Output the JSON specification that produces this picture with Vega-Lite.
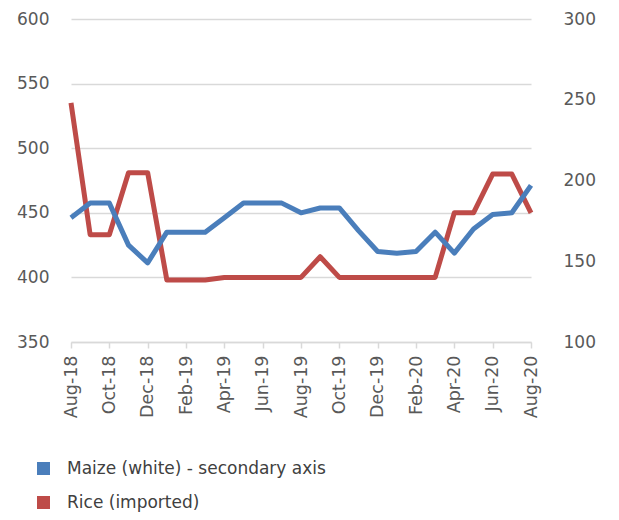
{
  "$schema": "https://vega.github.io/schema/vega-lite/v6.json",
  "width": 460,
  "height": 323,
  "autosize": "none",
  "padding": {"left": 71, "top": 19, "right": 88, "bottom": 178},
  "background": "white",
  "config": {
    "view": {"stroke": null},
    "font": "DejaVu Sans",
    "axis": {"labelColor": "#595959", "labelFont": "DejaVu Sans", "labelFontSize": 17, "title": null},
    "legend": {"labelColor": "#404040", "labelFont": "DejaVu Sans", "labelFontSize": 17, "labelLimit": 500}
  },
  "data": {
    "values": [
      {"month": "Aug-18", "series": "Rice (imported)", "value": 535},
      {"month": "Sep-18", "series": "Rice (imported)", "value": 433},
      {"month": "Oct-18", "series": "Rice (imported)", "value": 433},
      {"month": "Nov-18", "series": "Rice (imported)", "value": 481},
      {"month": "Dec-18", "series": "Rice (imported)", "value": 481},
      {"month": "Jan-19", "series": "Rice (imported)", "value": 398},
      {"month": "Feb-19", "series": "Rice (imported)", "value": 398},
      {"month": "Mar-19", "series": "Rice (imported)", "value": 398},
      {"month": "Apr-19", "series": "Rice (imported)", "value": 400},
      {"month": "May-19", "series": "Rice (imported)", "value": 400},
      {"month": "Jun-19", "series": "Rice (imported)", "value": 400},
      {"month": "Jul-19", "series": "Rice (imported)", "value": 400},
      {"month": "Aug-19", "series": "Rice (imported)", "value": 400},
      {"month": "Sep-19", "series": "Rice (imported)", "value": 416},
      {"month": "Oct-19", "series": "Rice (imported)", "value": 400},
      {"month": "Nov-19", "series": "Rice (imported)", "value": 400},
      {"month": "Dec-19", "series": "Rice (imported)", "value": 400},
      {"month": "Jan-20", "series": "Rice (imported)", "value": 400},
      {"month": "Feb-20", "series": "Rice (imported)", "value": 400},
      {"month": "Mar-20", "series": "Rice (imported)", "value": 400},
      {"month": "Apr-20", "series": "Rice (imported)", "value": 450},
      {"month": "May-20", "series": "Rice (imported)", "value": 450},
      {"month": "Jun-20", "series": "Rice (imported)", "value": 480},
      {"month": "Jul-20", "series": "Rice (imported)", "value": 480},
      {"month": "Aug-20", "series": "Rice (imported)", "value": 450},
      {"month": "Aug-18", "series": "Maize (white) - secondary axis", "value": 177},
      {"month": "Sep-18", "series": "Maize (white) - secondary axis", "value": 186},
      {"month": "Oct-18", "series": "Maize (white) - secondary axis", "value": 186},
      {"month": "Nov-18", "series": "Maize (white) - secondary axis", "value": 160},
      {"month": "Dec-18", "series": "Maize (white) - secondary axis", "value": 149},
      {"month": "Jan-19", "series": "Maize (white) - secondary axis", "value": 168},
      {"month": "Feb-19", "series": "Maize (white) - secondary axis", "value": 168},
      {"month": "Mar-19", "series": "Maize (white) - secondary axis", "value": 168},
      {"month": "Apr-19", "series": "Maize (white) - secondary axis", "value": 177},
      {"month": "May-19", "series": "Maize (white) - secondary axis", "value": 186},
      {"month": "Jun-19", "series": "Maize (white) - secondary axis", "value": 186},
      {"month": "Jul-19", "series": "Maize (white) - secondary axis", "value": 186},
      {"month": "Aug-19", "series": "Maize (white) - secondary axis", "value": 180},
      {"month": "Sep-19", "series": "Maize (white) - secondary axis", "value": 183},
      {"month": "Oct-19", "series": "Maize (white) - secondary axis", "value": 183},
      {"month": "Nov-19", "series": "Maize (white) - secondary axis", "value": 169},
      {"month": "Dec-19", "series": "Maize (white) - secondary axis", "value": 156},
      {"month": "Jan-20", "series": "Maize (white) - secondary axis", "value": 155},
      {"month": "Feb-20", "series": "Maize (white) - secondary axis", "value": 156},
      {"month": "Mar-20", "series": "Maize (white) - secondary axis", "value": 168},
      {"month": "Apr-20", "series": "Maize (white) - secondary axis", "value": 155},
      {"month": "May-20", "series": "Maize (white) - secondary axis", "value": 170},
      {"month": "Jun-20", "series": "Maize (white) - secondary axis", "value": 179},
      {"month": "Jul-20", "series": "Maize (white) - secondary axis", "value": 180},
      {"month": "Aug-20", "series": "Maize (white) - secondary axis", "value": 197}
    ]
  },
  "encoding": {
    "x": {
      "field": "month",
      "type": "ordinal",
      "sort": null,
      "scale": {"type": "point", "padding": 0},
      "axis": {
        "values": ["Aug-18", "Oct-18", "Dec-18", "Feb-19", "Apr-19", "Jun-19", "Aug-19", "Oct-19", "Dec-19", "Feb-20", "Apr-20", "Jun-20", "Aug-20"],
        "labelAngle": -90,
        "labelAlign": "right",
        "labelBaseline": "middle",
        "labelPadding": 7,
        "labelFontSize": 17.5,
        "domainColor": "#d9d9d9",
        "domainWidth": 1.5,
        "tickColor": "#d9d9d9",
        "tickWidth": 1.5,
        "tickSize": 6,
        "grid": false
      }
    },
    "color": {
      "field": "series",
      "type": "nominal",
      "scale": {"domain": ["Maize (white) - secondary axis", "Rice (imported)"], "range": ["#4A7EBB", "#BE4B48"]},
      "legend": {
        "title": null,
        "orient": "none",
        "legendX": -36,
        "legendY": 441,
        "direction": "vertical",
        "symbolType": "square",
        "symbolSize": 170,
        "symbolStrokeWidth": 0,
        "rowPadding": 16,
        "labelOffset": 15,
        "encode": {
          "symbols": {"update": {"fill": {"scale": "color", "field": "value"}, "fillOpacity": {"value": 1}}}
        }
      }
    }
  },
  "layer": [
    {
      "transform": [{"filter": "datum.series === 'Rice (imported)'"}],
      "mark": {"type": "line", "strokeWidth": 5, "strokeJoin": "round"},
      "encoding": {
        "y": {
          "field": "value",
          "type": "quantitative",
          "scale": {"domain": [350, 600], "nice": false, "zero": false},
          "axis": {
            "orient": "left",
            "values": [350, 400, 450, 500, 550, 600],
            "grid": true,
            "gridColor": "#d9d9d9",
            "gridWidth": 1.5,
            "domain": false,
            "ticks": false,
            "labelPadding": 22
          }
        }
      }
    },
    {
      "transform": [{"filter": "datum.series === 'Maize (white) - secondary axis'"}],
      "mark": {"type": "line", "strokeWidth": 5, "strokeJoin": "round"},
      "encoding": {
        "y": {
          "field": "value",
          "type": "quantitative",
          "scale": {"domain": [100, 300], "nice": false, "zero": false},
          "axis": {
            "orient": "right",
            "values": [100, 150, 200, 250, 300],
            "grid": false,
            "domain": false,
            "ticks": false,
            "labelPadding": 32
          }
        }
      }
    }
  ],
  "resolve": {"scale": {"y": "independent"}}
}
